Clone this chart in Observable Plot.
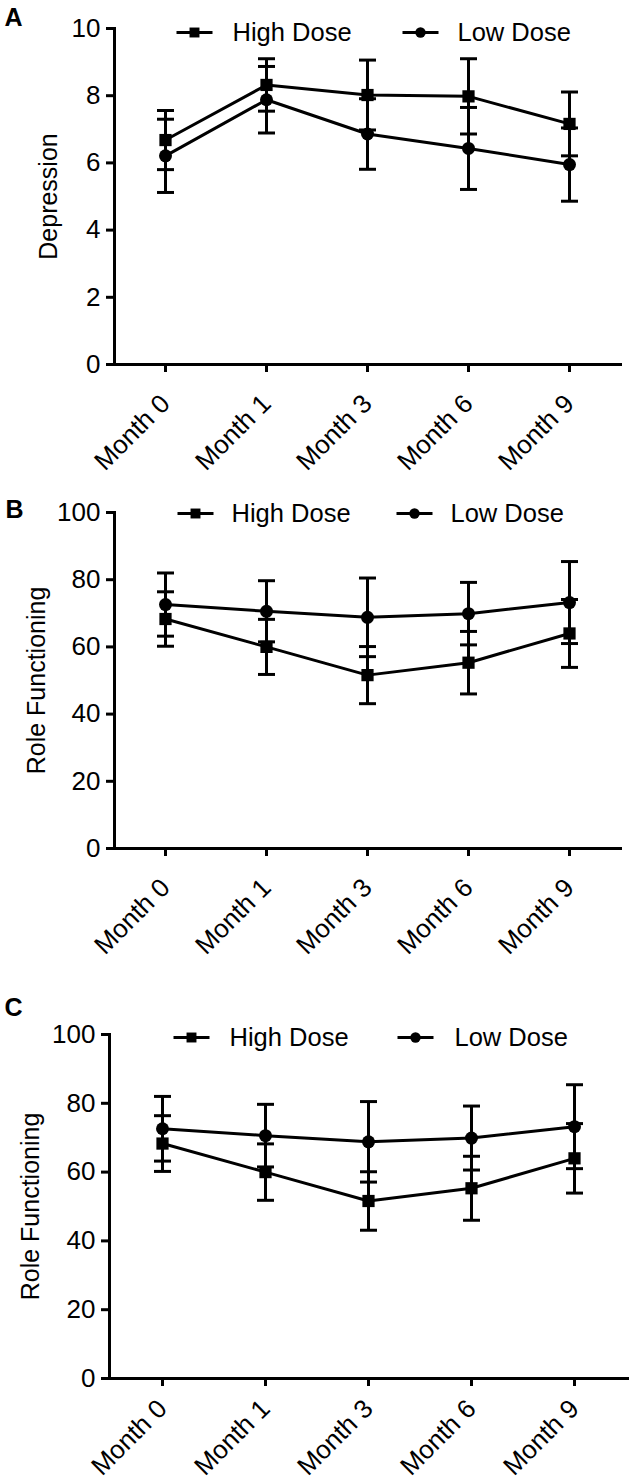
<!DOCTYPE html>
<html>
<head>
<meta charset="utf-8">
<script src="https://cdn.jsdelivr.net/npm/d3@7"></script>
<script src="https://cdn.jsdelivr.net/npm/@observablehq/plot@0.6"></script>
<style>
  html, body { margin: 0; padding: 0; background: #fff; }
  #chart svg { display: block; }
</style>
</head>
<body>
<div id="chart"></div>
<script>
// ---- Data ----
const months = ["Month 0", "Month 1", "Month 3", "Month 6", "Month 9"];
const seriesNames = ["High Dose", "Low Dose"];

// Panel A: Depression
const depressionHighMean = [6.68, 8.32, 8.02, 7.98, 7.16];
const depressionHighErr  = [0.88, 0.78, 1.04, 1.12, 0.95];
const depressionLowMean  = [6.21, 7.88, 6.86, 6.43, 5.95];
const depressionLowErr   = [1.09, 0.99, 1.05, 1.22, 1.09];
const depressionTicks = [0, 2, 4, 6, 8, 10];

// Panels B and C: Role Functioning
const roleHighMean = [68.3, 60.0, 51.6, 55.3, 64.0];
const roleHighErr  = [8.1, 8.2, 8.5, 9.3, 10.1];
const roleLowMean  = [72.6, 70.6, 68.8, 69.9, 73.2];
const roleLowErr   = [9.4, 9.1, 11.7, 9.3, 12.2];
const roleTicks = [0, 20, 40, 60, 80, 100];

// ---- Helpers ----
const FONT = "'Liberation Sans', Arial, Helvetica, sans-serif";
// horizontal bar symbol (error-bar caps, legend line)
const barSymbol = {
  draw(ctx, size) {
    const w = Math.sqrt(size / Math.PI);
    ctx.moveTo(-w, 0);
    ctx.lineTo(w, 0);
  }
};

function rows(means, errs) {
  return months.map((m, i) => ({month: m, mean: means[i], lo: means[i] - errs[i], hi: means[i] + errs[i]}));
}

function panel(cfg) {
  const high = rows(cfg.highMean, cfg.highErr);
  const low = rows(cfg.lowMean, cfg.lowErr);
  const mL = cfg.marginLeft, mT = cfg.marginTop;
  const marks = [];

  // axes
  marks.push(Plot.axisY({ticks: cfg.ticks, tickSize: 8, tickPadding: 6, strokeWidth: 3, fontSize: 26, label: null}));
  marks.push(Plot.axisX({tickSize: 8, strokeWidth: 3, tickFormat: () => "", label: null}));
  marks.push(Plot.frame({anchor: "left", strokeWidth: 3}));
  marks.push(Plot.frame({anchor: "bottom", strokeWidth: 3}));

  // error bars and lines
  for (const s of [high, low]) {
    marks.push(Plot.ruleX(s, {x: "month", y1: "lo", y2: "hi", stroke: "black", strokeWidth: 3}));
    marks.push(Plot.dot(s, {x: "month", y: "lo", symbol: barSymbol, r: 8.5, fill: "none", stroke: "black", strokeWidth: 3}));
    marks.push(Plot.dot(s, {x: "month", y: "hi", symbol: barSymbol, r: 8.5, fill: "none", stroke: "black", strokeWidth: 3}));
    marks.push(Plot.line(s, {x: "month", y: "mean", stroke: "black", strokeWidth: 3}));
  }
  marks.push(Plot.dot(high, {x: "month", y: "mean", symbol: "square", r: 6.9, fill: "black", stroke: "none"}));
  marks.push(Plot.dot(low, {x: "month", y: "mean", symbol: "circle", r: 6.5, fill: "black", stroke: "none"}));

  // x tick labels, rotated
  marks.push(Plot.text(months, {x: d => d, frameAnchor: "bottom", rotate: -45, textAnchor: "end", lineAnchor: "middle", dy: cfg.monthDy, fontSize: 26, fill: "black"}));

  // y axis label
  marks.push(Plot.text([cfg.yLabel], {frameAnchor: "left", rotate: -90, textAnchor: "middle", lineAnchor: "middle", dx: cfg.labelX - mL, fontSize: 25, fill: "black"}));

  // panel letter
  marks.push(Plot.text([cfg.letter], {frameAnchor: "top-left", textAnchor: "start", lineAnchor: "top", dx: cfg.letterX - mL, dy: cfg.letterY - mT, fontSize: 25, fontWeight: "bold", fill: "black"}));

  // legend
  const legSymbols = ["square", "circle"];
  const legR = [5.6, 5.2];
  seriesNames.forEach((name, i) => {
    const it = cfg.legend[i];
    marks.push(Plot.dot([name], {frameAnchor: "top-left", dx: it.cx - mL, dy: cfg.legendY - mT, symbol: barSymbol, r: 18, fill: "none", stroke: "black", strokeWidth: 3}));
    marks.push(Plot.dot([name], {frameAnchor: "top-left", dx: it.cx - mL, dy: cfg.legendY - mT, symbol: legSymbols[i], r: legR[i], fill: "black", stroke: "none"}));
    marks.push(Plot.text([name], {frameAnchor: "top-left", dx: it.tx - mL, dy: cfg.legendY - mT, textAnchor: "start", lineAnchor: "middle", fontSize: 25.5, fill: "black"}));
  });

  return Plot.plot({
    width: 629,
    height: cfg.height,
    marginLeft: mL,
    marginRight: cfg.marginRight,
    marginTop: mT,
    marginBottom: cfg.marginBottom,
    x: {type: "point", domain: months, padding: 0.5},
    y: {domain: cfg.domain},
    style: {fontFamily: FONT, background: "white", color: "black", overflow: "visible"},
    marks
  });
}

const chart = document.getElementById("chart");

chart.appendChild(panel({
  letter: "A", yLabel: "Depression",
  highMean: depressionHighMean, highErr: depressionHighErr,
  lowMean: depressionLowMean, lowErr: depressionLowErr,
  ticks: depressionTicks, domain: [0, 10],
  height: 480, marginTop: 28, marginBottom: 116, marginLeft: 114, marginRight: 9,
  labelX: 48, letterX: 4, letterY: 8, monthDy: 35,
  legendY: 32, legend: [{cx: 194, tx: 232}, {cx: 420, tx: 457}]
}));

chart.appendChild(panel({
  letter: "B", yLabel: "Role Functioning",
  highMean: roleHighMean, highErr: roleHighErr,
  lowMean: roleLowMean, lowErr: roleLowErr,
  ticks: roleTicks, domain: [0, 100],
  height: 500, marginTop: 32, marginBottom: 132, marginLeft: 114, marginRight: 9,
  labelX: 36, letterX: 5, letterY: 20, monthDy: 35,
  legendY: 33, legend: [{cx: 195, tx: 231}, {cx: 414, tx: 450}]
}));

chart.appendChild(panel({
  letter: "C", yLabel: "Role Functioning",
  highMean: roleHighMean, highErr: roleHighErr,
  lowMean: roleLowMean, lowErr: roleLowErr,
  ticks: roleTicks, domain: [0, 100],
  height: 502, marginTop: 54, marginBottom: 104, marginLeft: 109, marginRight: 2,
  labelX: 30, letterX: 4, letterY: 18, monthDy: 26,
  legendY: 57, legend: [{cx: 191, tx: 229}, {cx: 415, tx: 454}]
}));
</script>
</body>
</html>
